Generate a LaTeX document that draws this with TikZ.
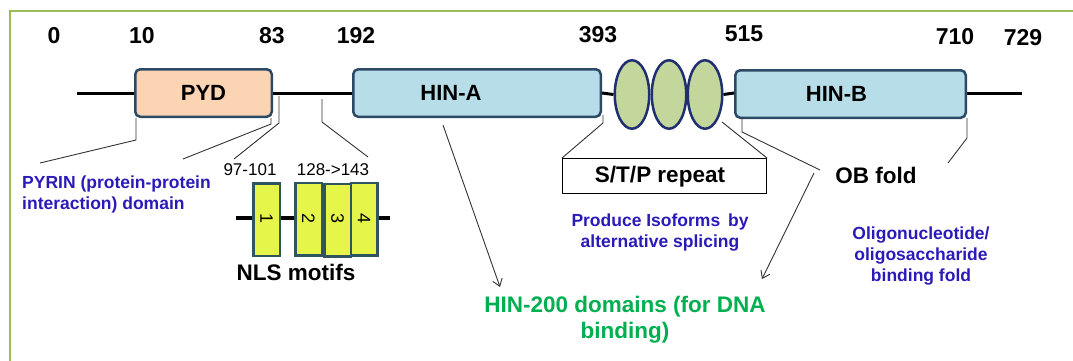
\documentclass[tikz,border=0pt]{standalone}
\usepackage{fontspec}
\setmainfont{Liberation Sans}
\usetikzlibrary{shapes.geometric,arrows.meta,calc}
\definecolor{frameg}{HTML}{9BBB59}
\definecolor{edgeb}{HTML}{2C4A66}
\definecolor{pydf}{HTML}{FBD4B4}
\definecolor{hinf}{HTML}{B7DEE8}
\definecolor{ovalf}{HTML}{C3D69B}
\definecolor{ovale}{HTML}{1F2F6F}
\definecolor{nlsf}{HTML}{E6F54A}
\definecolor{nlse}{HTML}{2F5560}
\definecolor{bluet}{HTML}{2A1AB8}
\definecolor{greent}{HTML}{00B050}
\begin{document}
\begin{tikzpicture}[x=1pt,y=-1pt,
  dom/.style={draw=edgeb, line width=2.5pt, rounded corners=5pt, minimum height=47.5pt, inner sep=0pt},
  big/.style={font=\bfseries\fontsize{22}{24}\selectfont, inner sep=0pt},
  num/.style={font=\bfseries\fontsize{23}{24}\selectfont, inner sep=0pt},
  oval/.style={ellipse, draw=ovale, fill=ovalf, line width=2.5pt, minimum width=34.5pt, minimum height=68.5pt, inner sep=0pt},
  nls/.style={draw=nlse, fill=nlsf, line width=2.5pt, minimum width=26.5pt, minimum height=72.5pt, inner sep=0pt},
  nlsnum/.style={font=\fontsize{18}{20}\selectfont, rotate=-90, inner sep=0pt},
  bb/.style={line width=3pt},
  nlsbb/.style={line width=4.5pt},
  thin/.style={draw=black!80, line width=0.9pt},
  arr/.style={thin, -{Straight Barb[length=7pt,width=10pt]}},
  bluelbl/.style={text=bluet, font=\bfseries\fontsize{17.5}{21}\selectfont, align=center, inner sep=0pt},
  small/.style={font=\fontsize{17}{20}\selectfont, inner sep=0pt},
]
\useasboundingbox (0,0) rectangle (1073,360);
% frame
\draw[frameg, line width=2pt] (9.5,361) -- (9.5,11) -- (1074,11);

% position numbers
\node[num] (n0) at (54,36) {0};
\node[num] (n10) at (142,36) {10};
\node[num] (n83) at (272,36) {83};
\node[num] (n192) at (356,36) {192};
\node[num] (n393) at (598,35) {393};
\node[num] (n515) at (744,34) {515};
\node[num] (n710) at (955,37) {710};
\node[num] (n729) at (1023,38) {729};

% domains
\node[dom, fill=pydf, minimum width=136.5pt, big] (PYD) at (203.5,93) {PYD};
\node[dom, fill=hinf, minimum width=247.5pt,
      label={[big, xshift=-26pt]center:HIN-A}] (HINA) at (477,93) {};
\node[oval] (E1) at (632,94.5) {};
\node[oval] (E2) at (669,94.5) {};
\node[oval] (E3) at (705,94.5) {};
\node[dom, fill=hinf, minimum width=230.5pt,
      label={[big, xshift=-14pt]center:HIN-B}] (HINB) at (850.5,94) {};

\coordinate (bbL) at (77,93);
\coordinate (bbR) at (1022,93);
\draw[bb] (bbL) -- (PYD.west);
\draw[bb] (PYD.east) -- (HINA.west);
\draw[bb] (HINA.east |- 0,93) -- (E1.west);
\draw[bb] (E3.east) -- (HINB.west |- 0,93);
\draw[bb] (HINB.east |- 0,93) -- (bbR);

% S/T/P repeat box
\node[draw=black, line width=1pt, fill=white, minimum width=204pt, minimum height=35pt, inner sep=0pt] (STP) at (664.5,176) {};
\node[font=\bfseries\fontsize{22.5}{24}\selectfont, inner sep=0pt] (STPt) at (660,177) {S/T/P repeat};
\coordinate (s1) at (603,115);
\coordinate (s1b) at (603,123);
\coordinate (s2) at (722,122);
\draw[thin] (s1) -- (s1b) -- (STP.north west);
\draw[thin] (s2) -- (STP.north east);

% OB fold
\node[font=\bfseries\fontsize{22.5}{24}\selectfont, inner sep=0pt] (OB) at (876,175) {OB fold};
\coordinate (o1) at (742,118);
\coordinate (o1b) at (742,132);
\coordinate (o1c) at (820,170);
\draw[thin] (o1) -- (o1b) -- (o1c);
\coordinate (o2) at (967,118);
\coordinate (o2b) at (967,138);
\coordinate (o2c) at (948,163);
\draw[thin] (o2) -- (o2b) -- (o2c);

% PYD callouts
\coordinate (p1) at (136,118);
\coordinate (p1b) at (136,140);
\coordinate (p1c) at (40,163);
\draw[thin] (p1) -- (p1b) -- (p1c);
\coordinate (p2) at (271,118);
\coordinate (p2b) at (271,124);
\coordinate (p2c) at (183,159);
\draw[thin] (p2) -- (p2b) -- (p2c);
\coordinate (q1) at (279,96);
\coordinate (q1b) at (279,123);
\coordinate (q1c) at (234,159);
\draw[thin] (q1) -- (q1b) -- (q1c);
\coordinate (q2) at (322,99);
\coordinate (q2b) at (322,122);
\coordinate (q2c) at (368,157);
\draw[thin] (q2) -- (q2b) -- (q2c);

% labels
\node[bluelbl, align=left, anchor=west] (pyrin) at (22,194) {PYRIN (protein-protein\\interaction) domain};
\node[bluelbl] (iso) at (660,232.5) {Produce Isoforms\, by\\alternative splicing};
\node[bluelbl] (oligo) at (921,256) {Oligonucleotide/\\oligosaccharide\\binding fold};
\node[text=greent, font=\bfseries\fontsize{22.5}{26}\selectfont, align=center, inner sep=0pt] (hin200) at (625,320) {HIN-200 domains (for DNA\\binding)};

% arrows to HIN-200
\coordinate (a1) at (443,125);
\coordinate (a1t) at (500,287);
\draw[arr] (a1) -- (a1t);
\coordinate (a2) at (814,173);
\coordinate (a2t) at (762,279);
\draw[arr] (a2) -- (a2t);

% NLS motifs
\node[small] (l1) at (250,170) {97-101};
\node[small] (l2) at (333,170) {128->143};
\node[nls] (B1) at (266.5,219.5) {};
\node[nls] (B2) at (308.5,219) {};
\node[nls] (B4) at (364,219) {};
\node[nls] (B3) at (337.5,220) {};
\node[nlsnum] (t1) at (266.5,218) {1};
\node[nlsnum] (t2) at (308.5,218) {2};
\node[nlsnum] (t3) at (337.5,218) {3};
\node[nlsnum] (t4) at (364,218) {4};
\coordinate (nl) at (236,218);
\coordinate (nr) at (390,218);
\draw[nlsbb] (nl) -- (B1.west |- 0,218);
\draw[nlsbb] (B1.east |- 0,218) -- (B2.west |- 0,218);
\draw[nlsbb] (B4.east |- 0,218) -- (nr);
\node[font=\bfseries\fontsize{22.5}{24}\selectfont, inner sep=0pt] (nlst) at (296,272) {NLS motifs};
\end{tikzpicture}
\end{document}
